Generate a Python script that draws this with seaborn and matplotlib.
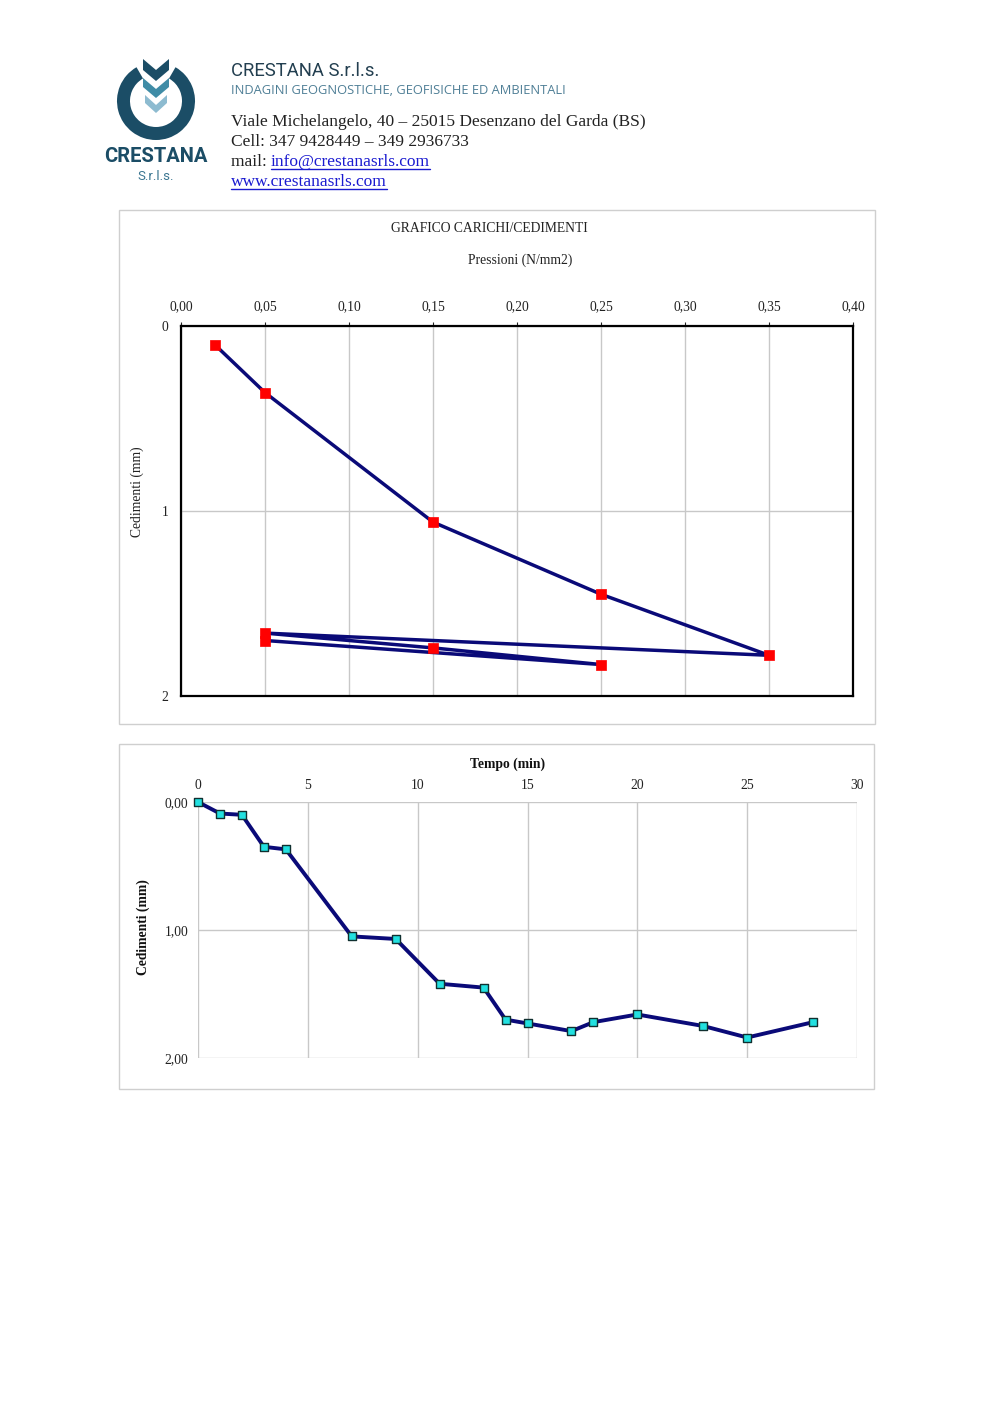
import matplotlib
matplotlib.use("Agg")
import matplotlib.pyplot as plt
import matplotlib.patches as mpatches
import seaborn as sns
import pandas as pd

# ---------------- data ----------------
pressioni = [0.02, 0.05, 0.15, 0.25, 0.35, 0.05, 0.15, 0.25, 0.05]
cedimenti_p = [0.10, 0.36, 1.06, 1.45, 1.78, 1.66, 1.74, 1.83, 1.70]

tempo = [0, 1, 2, 3, 4, 7, 9, 11, 13, 14, 15, 17, 18, 20, 23, 25, 28]
cedimenti_t = [0.00, 0.09, 0.10, 0.35, 0.37, 1.05, 1.07, 1.42, 1.45,
               1.70, 1.73, 1.79, 1.72, 1.66, 1.75, 1.84, 1.72]

x_ticks_top = [0.00, 0.05, 0.10, 0.15, 0.20, 0.25, 0.30, 0.35, 0.40]
x_ticklabels_top = ["0,00", "0,05", "0,10", "0,15", "0,20", "0,25", "0,30", "0,35", "0,40"]
y_ticks_top = [0, 1, 2]
y_ticklabels_top = ["0", "1", "2"]
x_ticks_bot = [0, 5, 10, 15, 20, 25, 30]
y_ticks_bot = [0, 1, 2]
y_ticklabels_bot = ["0,00", "1,00", "2,00"]

df_p = pd.DataFrame({"p": pressioni, "c": cedimenti_p})
df_t = pd.DataFrame({"t": tempo, "c": cedimenti_t})

# ---------------- style ----------------
sns.set_style("white")
plt.rcParams["font.family"] = ["Liberation Serif", "DejaVu Serif"]

W, H = 1000, 1414
fig = plt.figure(figsize=(W / 100, H / 100), dpi=100)
fig.patch.set_facecolor("white")

# overlay axes in pixel coords
ov = fig.add_axes([0, 0, 1, 1], zorder=0)
ov.set_xlim(0, W)
ov.set_ylim(H, 0)
ov.axis("off")

# ---------- header / logo ----------
dark = "#1b4d66"
teal = "#3f8ca6"
light = "#8dbbd0"
ring = mpatches.Wedge((156, 101), 39, -60, 240, width=13, facecolor=dark, edgecolor="none")
ov.add_patch(ring)


def chevron(cx, y0, hw, depth, thick, color):
    pts = [(cx - hw, y0), (cx, y0 + depth), (cx + hw, y0),
           (cx + hw, y0 + thick), (cx, y0 + depth + thick), (cx - hw, y0 + thick)]
    ov.add_patch(mpatches.Polygon(pts, closed=True, facecolor=color, edgecolor="none"))


chevron(156, 59, 13, 11, 11, dark)
chevron(156, 78, 13, 11, 9, teal)
chevron(156, 95, 11, 10, 8, light)

ov.text(156, 156, "CRESTANA", ha="center", va="center", fontsize=14.5,
        fontweight="bold", color=dark, family=["Roboto", "DejaVu Sans"])
ov.text(156, 176, "S.r.l.s.", ha="center", va="center", fontsize=9.5,
        color="#3a7590", family=["Roboto", "DejaVu Sans"])

ov.text(231, 71, "CRESTANA S.r.l.s.", ha="left", va="center", fontsize=13.3,
        color="#233f50", family=["Roboto", "DejaVu Sans"])
ov.text(231, 90, "INDAGINI GEOGNOSTICHE, GEOFISICHE ED AMBIENTALI", ha="left",
        va="center", fontsize=9.3, color="#4f7f96", family=["Open Sans", "DejaVu Sans"])
ov.text(231, 122, "Viale Michelangelo, 40 \u2013 25015 Desenzano del Garda (BS)", ha="left",
        va="center", fontsize=12.5, color="#222222")
ov.text(231, 142, "Cell: 347 9428449 \u2013 349 2936733", ha="left",
        va="center", fontsize=12.5, color="#222222")
ov.text(231, 162, "mail: ", ha="left", va="center", fontsize=12.5, color="#222222")
link1 = ov.text(271, 162, "info@crestanasrls.com", ha="left", va="center",
                fontsize=12.5, color="#1a1ad0")
link2 = ov.text(231, 182, "www.crestanasrls.com", ha="left", va="center",
                fontsize=12.5, color="#1a1ad0")

# outer chart frames
ov.add_patch(mpatches.Rectangle((119, 210), 756, 514, fill=False, edgecolor="#cfcfcf", lw=1))
ov.add_patch(mpatches.Rectangle((119, 744), 755, 345, fill=False, edgecolor="#cfcfcf", lw=1))

# chart texts
ov.text(489, 229, "GRAFICO CARICHI/CEDIMENTI", ha="center", va="center", fontsize=9.8, color="#222222")
ov.text(520, 260, "Pressioni (N/mm2)", ha="center", va="center", fontsize=9.8, color="#222222")
ov.text(137, 492, "Cedimenti (mm)", ha="center", va="center", rotation=90, fontsize=9.8, color="#222222")
ov.text(508, 764, "Tempo (min)", ha="center", va="center", fontsize=9.8, fontweight="bold", color="#111111")
ov.text(143, 927, "Cedimenti (mm)", ha="center", va="center", rotation=90, fontsize=9.8,
        fontweight="bold", color="#111111")

# ---------- top chart ----------
ax1 = fig.add_axes([181 / W, 1 - 696 / H, 672 / W, 370 / H], zorder=2)
sns.lineplot(data=df_p, x="p", y="c", sort=False, estimator=None, color="#0a0a78",
             lw=2.5, ax=ax1, zorder=3)
sns.scatterplot(data=df_p, x="p", y="c", marker="s", s=55, color="#ff0000",
                edgecolor="#ff0000", linewidth=0.5, ax=ax1, zorder=4, clip_on=False)
ax1.set_xlim(0, 0.4)
ax1.set_ylim(2, 0)
ax1.set_xticks(x_ticks_top)
ax1.set_xticklabels(x_ticklabels_top)
ax1.set_yticks(y_ticks_top)
ax1.set_yticklabels(y_ticklabels_top)
ax1.xaxis.tick_top()
ax1.set_xlabel("")
ax1.set_ylabel("")
ax1.tick_params(axis="both", labelsize=9.8, colors="#222222", length=3, width=0.8, pad=6)
ax1.grid(True, color="#c8c8c8", lw=1)
ax1.set_axisbelow(True)
for s in ax1.spines.values():
    s.set_color("black")
    s.set_linewidth(1.6)

# ---------- bottom chart ----------
ax2 = fig.add_axes([198 / W, 1 - 1058 / H, 659 / W, 256 / H], zorder=2)
sns.lineplot(data=df_t, x="t", y="c", sort=False, estimator=None, color="#0a0a78",
             lw=2.8, ax=ax2, zorder=3)
sns.scatterplot(data=df_t, x="t", y="c", marker="s", s=40, color="#22e0e0",
                edgecolor="#103030", linewidth=1.0, ax=ax2, zorder=4, clip_on=False)
ax2.set_xlim(0, 30)
ax2.set_ylim(2, 0)
ax2.set_xticks(x_ticks_bot)
ax2.set_yticks(y_ticks_bot)
ax2.set_yticklabels(y_ticklabels_bot)
ax2.xaxis.tick_top()
ax2.set_xlabel("")
ax2.set_ylabel("")
ax2.tick_params(axis="both", labelsize=9.8, colors="#222222", length=0, pad=7)
ax2.grid(True, color="#c8c8c8", lw=1)
ax2.set_axisbelow(True)
for s in ax2.spines.values():
    s.set_visible(False)
ax2.patch.set_alpha(0)

# underline links
fig.canvas.draw()
r = fig.canvas.get_renderer()
inv = ov.transData.inverted()
for t in (link1, link2):
    bb = t.get_window_extent(renderer=r)
    (x0, y0), (x1, y1) = inv.transform([(bb.x0, bb.y0), (bb.x1, bb.y1)])
    ov.plot([x0, x1], [y0 - 1, y0 - 1], color="#1a1ad0", lw=1)

fig.savefig("out.png", dpi=100, facecolor="white")
